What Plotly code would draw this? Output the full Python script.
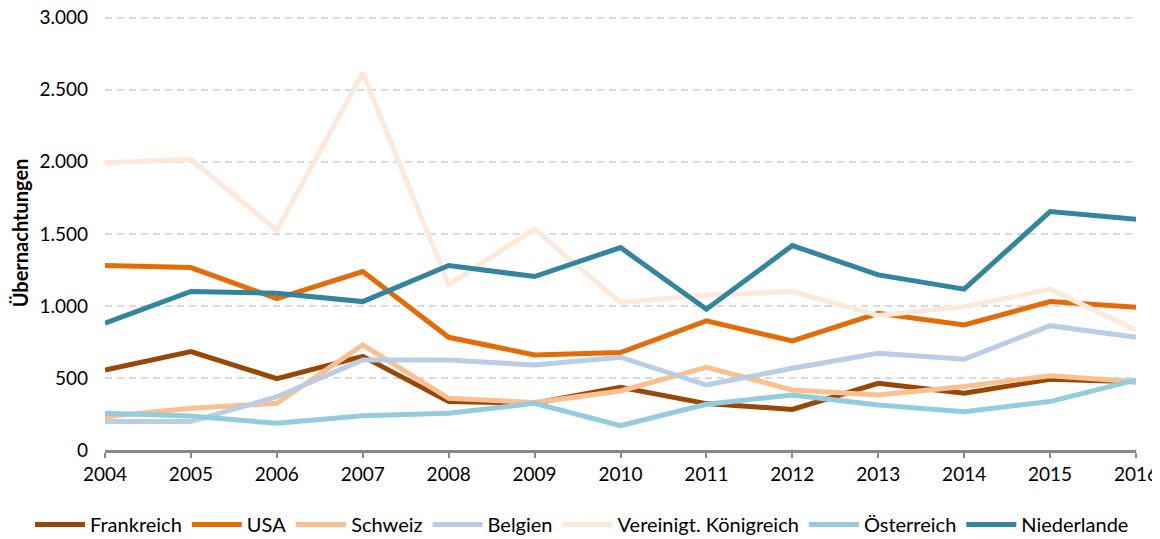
import plotly.graph_objects as go

years = list(range(2004, 2017))

frankreich = [555, 683, 495, 650, 336, 325, 435, 322, 282, 463, 394, 491, 474]
usa = [1280, 1266, 1050, 1238, 782, 660, 676, 896, 757, 949, 868, 1030, 991]
schweiz = [231, 289, 324, 729, 359, 330, 410, 574, 417, 382, 440, 516, 474]
belgien = [197, 197, 370, 625, 625, 590, 644, 451, 567, 671, 630, 863, 782]
vk = [1993, 2018, 1525, 2618, 1146, 1535, 1023, 1076, 1100, 933, 995, 1116, 833]
oesterreich = [255, 236, 185, 238, 255, 324, 169, 317, 382, 313, 266, 336, 486]
niederlande = [880, 1100, 1088, 1030, 1280, 1204, 1405, 977, 1419, 1215, 1116, 1655, 1602]

series = [
    ("Frankreich", frankreich, "#974806"),
    ("USA", usa, "#E36C09"),
    ("Schweiz", schweiz, "#FAC090"),
    ("Belgien", belgien, "#B9CDE5"),
    ("Vereinigt. Königreich", vk, "#FDE9D9"),
    ("Österreich", oesterreich, "#93CDDD"),
    ("Niederlande", niederlande, "#31859C"),
]

FONT = "Lato, 'Open Sans', sans-serif"

fig = go.Figure()
for name, vals, color in series:
    fig.add_trace(go.Scatter(
        x=years, y=vals, name=name, mode="lines",
        line=dict(color=color, width=5),
    ))

# page body has an 8px margin, so the figure is sized/offset to compensate
fig.update_layout(
    width=1152, height=531,
    margin=dict(l=97, r=24, t=8, b=89, autoexpand=False),
    paper_bgcolor="white", plot_bgcolor="white",
    separators=",.",
    font=dict(family=FONT, size=19, color="#000000"),
    showlegend=True,
    # anchored left of the plot area so the single row may use the left margin too
    legend=dict(orientation="h", x=-0.0727, xanchor="left",
                y=-0.1267, yanchor="top",
                font=dict(size=20), itemwidth=50, tracegroupgap=0),
)
fig.update_xaxes(
    range=[2004, 2016], tickmode="array", tickvals=years,
    showgrid=False, zeroline=False, automargin=False,
    showline=True, linecolor="#898989", linewidth=3,
    ticks="outside", tickcolor="#898989", ticklen=5, tickwidth=2,
    ticklabelstandoff=0, ticklabeloverflow="allow",
)
# a little headroom above 3000 so plotly keeps the top gridline
fig.update_yaxes(
    range=[0, 3012], tickvals=[0, 500, 1000, 1500, 2000, 2500, 3000],
    tickformat=",d", automargin=False,
    showgrid=True, gridcolor="#D9D9D9", griddash="7px,5px", gridwidth=1.5,
    zeroline=False, showline=False, ticks="", ticklabelstandoff=16,
    ticklabeloverflow="allow",
    title=dict(text="<b>Übernachtungen</b>", font=dict(size=20), standoff=10),
)

fig.write_html("out.html", post_script="document.body.style.overflow = 'hidden';")
